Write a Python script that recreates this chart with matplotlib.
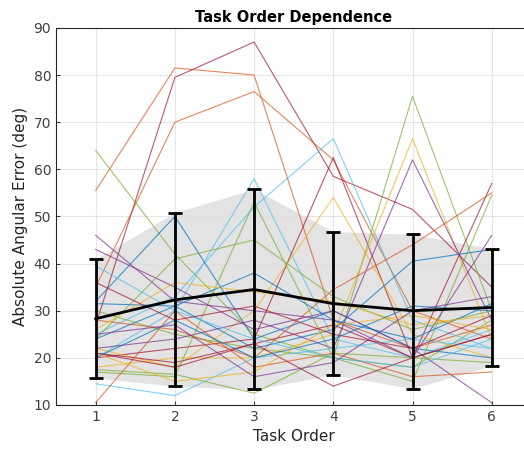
import matplotlib
matplotlib.use("Agg")
import matplotlib.pyplot as plt

task_order = [1, 2, 3, 4, 5, 6]

# per-subject absolute angular error (deg)
subjects = [
    [55.5, 81.5, 80.0, 28.0, 22.0, 27.0],
    [27.0, 79.5, 87.0, 58.5, 51.5, 35.0],
    [35.0, 70.0, 76.5, 62.0, 30.0, 24.0],
    [64.0, 42.0, 25.0, 20.0, 18.0, 28.0],
    [20.0, 30.0, 58.0, 24.0, 20.0, 26.0],
    [25.0, 33.0, 52.0, 66.5, 28.0, 22.0],
    [20.0, 22.0, 24.0, 62.5, 20.0, 25.0],
    [22.0, 18.0, 30.0, 54.0, 25.0, 20.0],
    [30.0, 25.0, 22.0, 20.0, 75.5, 30.0],
    [18.0, 20.0, 20.0, 25.0, 66.5, 24.0],
    [22.0, 24.0, 28.0, 22.0, 62.0, 28.0],
    [32.0, 50.0, 24.0, 30.0, 22.0, 20.0],
    [21.0, 19.0, 23.0, 27.0, 20.0, 57.0],
    [28.0, 26.0, 20.0, 34.5, 44.0, 55.0],
    [17.0, 16.0, 53.0, 20.0, 15.0, 54.5],
    [46.0, 32.0, 30.0, 28.0, 20.0, 46.0],
    [24.0, 31.0, 22.0, 26.0, 40.5, 43.0],
    [43.0, 35.0, 26.0, 30.0, 22.0, 10.5],
    [14.5, 12.0, 20.0, 22.0, 24.0, 22.0],
    [10.5, 30.0, 18.0, 21.0, 16.0, 17.0],
    [17.5, 16.5, 12.5, 21.0, 20.0, 19.0],
    [21.0, 18.0, 23.0, 14.0, 20.0, 25.0],
    [24.0, 41.0, 45.0, 33.0, 26.0, 30.0],
    [31.5, 31.0, 38.0, 28.0, 24.0, 31.5],
    [39.5, 30.0, 24.0, 20.0, 18.0, 24.0],
    [26.0, 36.0, 34.0, 32.0, 27.0, 29.0],
    [36.0, 28.0, 31.0, 25.0, 22.0, 29.0],
    [20.0, 28.0, 20.0, 24.0, 31.0, 30.0],
    [21.0, 15.0, 17.0, 27.0, 29.0, 26.0],
    [25.0, 27.0, 16.0, 19.0, 30.0, 33.0],
]
# index into the matlab colour order for each subject
subject_color = [1, 6, 1, 4, 5, 5, 6, 2, 4, 2, 3, 0, 6, 1, 4, 3, 0, 3,
                 5, 1, 4, 6, 4, 0, 5, 2, 6, 0, 2, 3]

mean_err = [28.3, 32.3, 34.5, 31.5, 30.0, 30.7]
err_low = [15.7, 14.0, 13.3, 16.4, 13.5, 18.3]
err_high = [41.0, 50.8, 55.8, 46.8, 46.2, 43.2]

matlab_colors = ["#0072BD", "#D95319", "#EDB120", "#7E2F8E",
                 "#77AC30", "#4DBEEE", "#A2142F"]

fig = plt.figure(figsize=(5.24, 4.5), dpi=100)
ax = fig.add_axes([0.107, 0.1, 0.907, 0.838])

ax.fill_between(task_order, err_low, err_high, color="#dcdcdc",
                alpha=0.8, linewidth=0, zorder=1)

for vals, ci in zip(subjects, subject_color):
    ax.plot(task_order, vals, color=matlab_colors[ci], lw=0.8,
            alpha=0.7, zorder=2)

yerr = [[m - lo for m, lo in zip(mean_err, err_low)],
        [hi - m for m, hi in zip(mean_err, err_high)]]
ax.errorbar(task_order, mean_err, yerr=yerr, color="black", lw=2,
            elinewidth=2, capsize=5, capthick=2, zorder=4)

ax.set_xlim(0.5, 6.5)
ax.set_ylim(10, 90)
ax.set_xticks(task_order)
ax.set_yticks(range(10, 91, 10))
ax.grid(True, color="#e6e6e6", lw=0.8)
ax.set_axisbelow(True)
for s in ax.spines.values():
    s.set_color("#262626")
    s.set_linewidth(0.8)
ax.spines["right"].set_visible(False)
ax.tick_params(colors="#404040", labelsize=10, length=3, direction="in")

ax.set_title("Task Order Dependence", fontsize=10.5, fontweight="bold", pad=4)
ax.set_xlabel("Task Order", fontsize=11, color="#262626")
ax.set_ylabel("Absolute Angular Error (deg)", fontsize=11, color="#262626")

fig.savefig("out.png", dpi=100)
